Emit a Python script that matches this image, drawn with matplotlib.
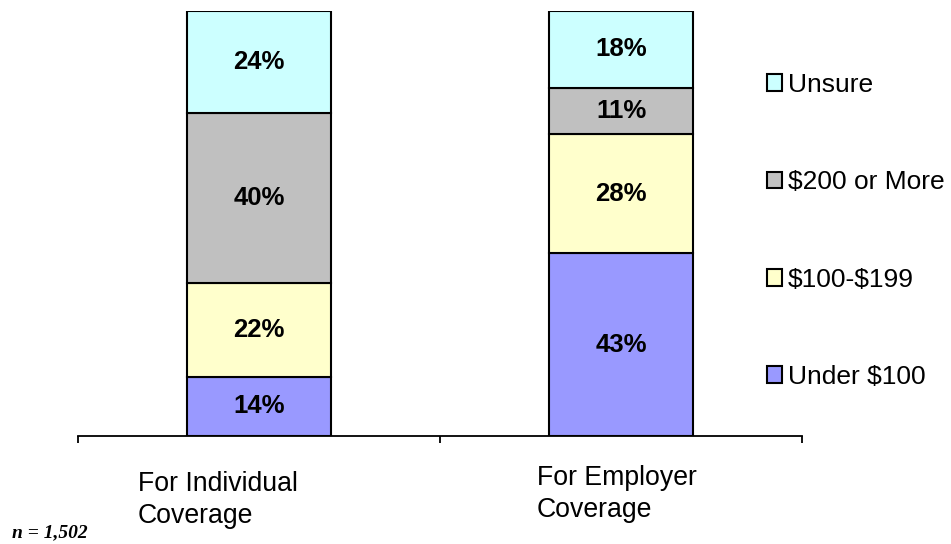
import numpy as np
import matplotlib
matplotlib.use("Agg")
import matplotlib.pyplot as plt
from matplotlib.patches import Patch

plt.rcParams['font.family'] = ['Liberation Sans', 'DejaVu Sans']
plt.rcParams['text.parse_math'] = False

categories = ["For Individual\nCoverage", "For Employer\nCoverage"]
series = ["Under $100", "$100-$199", "$200 or More", "Unsure"]
under_100 = [14, 43]
from_100_199 = [22, 28]
over_200 = [40, 11]
unsure = [24, 18]
colors = ["#9999FF", "#FFFFCC", "#C0C0C0", "#CCFFFF"]
sample_note = "n = 1,502"

values = [under_100, from_100_199, over_200, unsure]

fig = plt.figure(figsize=(9.51, 5.44), dpi=100)
# axes spans the baseline x 78..802 px, y 11..436 px
ax = fig.add_axes([78/951, 108/544, 724/951, 425/544])

x = np.arange(len(categories))
bottom = np.zeros(len(categories))
for vals, name, col in zip(values, series, colors):
    bars = ax.bar(x, vals, width=0.4, bottom=bottom, color=col,
                  edgecolor='black', linewidth=1.5, label=name, zorder=3)
    for b, v in zip(bars, vals):
        ax.text(b.get_x() + b.get_width()/2, b.get_y() + b.get_height()/2,
                f"{v}%", ha='center', va='center', fontsize=18.5,
                fontweight='bold', zorder=4)
    bottom += np.array(vals)

ax.set_xlim(-0.5, 1.5)
ax.set_ylim(0, 100)
for s in ['left', 'right', 'top']:
    ax.spines[s].set_visible(False)
ax.spines['bottom'].set_linewidth(1.3)
ax.set_yticks([])
ax.set_xticks([-0.5, 0.5, 1.5])
ax.set_xticklabels(['', '', ''])
ax.tick_params(axis='x', direction='out', length=5, width=1.3)

# category labels, left aligned under each bar
label_x = [-0.334, 0.768]
label_y = [-0.082, -0.068]
for lx, ly, cat in zip(label_x, label_y, categories):
    ax.text(lx, ly, cat, transform=ax.get_xaxis_transform(), ha='left',
            va='top', fontsize=19.2, linespacing=1.3)

handles = [Patch(facecolor=c, edgecolor='black', linewidth=1.5) for c in colors]
fig.legend(handles[::-1], series[::-1], loc='center left',
           bbox_to_anchor=(756/951, 1 - 231/544), frameon=False,
           fontsize=19, handlelength=0.6, handleheight=0.6,
           handletextpad=0.22, labelspacing=2.78, borderaxespad=0)

fig.text(12/951, 3/544, sample_note, family=['Liberation Serif', 'DejaVu Serif'],
         fontsize=14, fontweight='bold', fontstyle='italic', ha='left', va='bottom')

fig.savefig("out.png", dpi=100)
